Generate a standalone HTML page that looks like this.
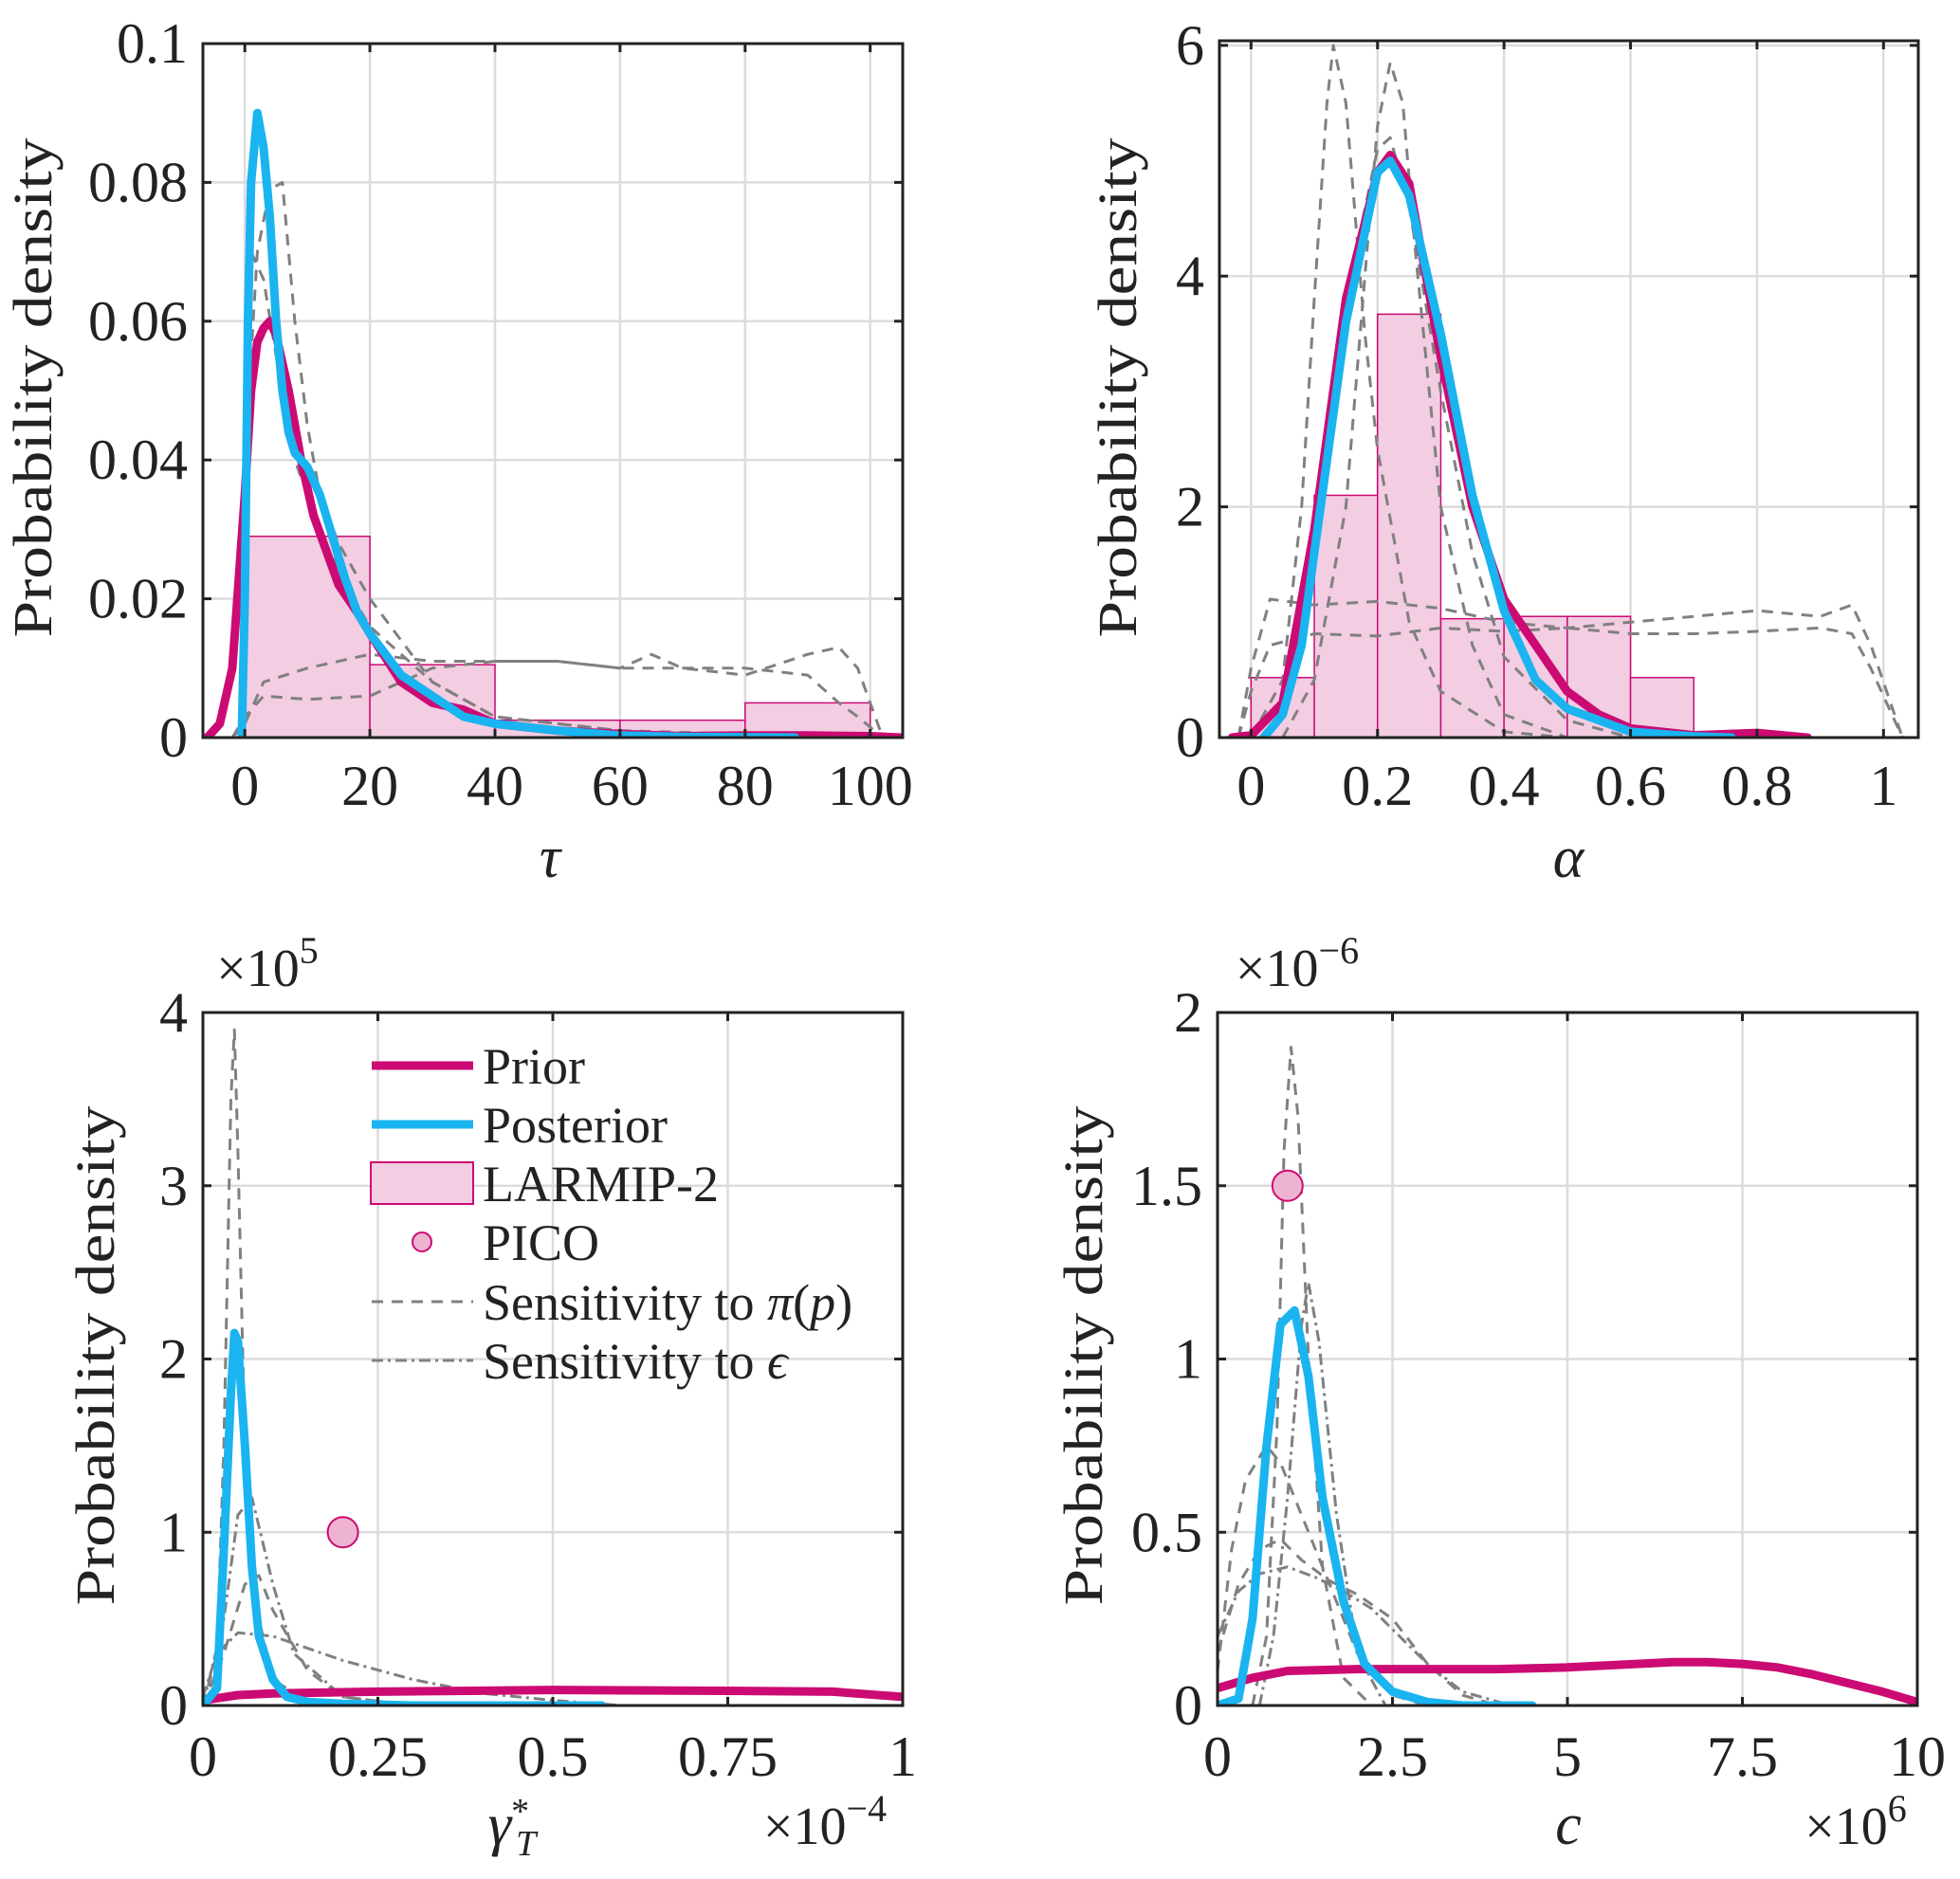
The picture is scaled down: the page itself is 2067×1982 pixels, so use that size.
<!DOCTYPE html>
<html><head><meta charset="utf-8"><style>
html,body{margin:0;padding:0;background:#fff;}
svg{display:block;font-family:"Liberation Serif",serif;}
</style></head><body>
<svg id="fig" width="2067" height="1982" viewBox="0 0 2067 1982" xmlns="http://www.w3.org/2000/svg"></svg>
<script>
// ---------- Panel A: tau ----------
const tauPriorX=[-6,-4,-2,0,1,2,3,4,5,7,9,11,13,15,18,20,25,30,35,40,45,50,60,70,80,90,100,105];
const tauPriorY=[0,0.002,0.01,0.035,0.05,0.057,0.059,0.06,0.058,0.05,0.04,0.032,0.027,0.022,0.018,0.015,0.008,0.005,0.004,0.002,0.0015,0.001,0.0005,0.0002,0.0003,0.0003,0.0002,0];
const tauPostX=[-0.5,0,0.5,1,2,3,4,5,6,7,8,10,12,14,16,18,20,25,30,35,40,50,60,70,88];
const tauPostY=[0,0.02,0.06,0.08,0.09,0.085,0.075,0.06,0.05,0.044,0.041,0.039,0.035,0.029,0.023,0.018,0.015,0.009,0.006,0.003,0.002,0.001,0.0003,0.0001,0];
const tauHistEdges=[0,20,40,60,80,100];
const tauHistH=[0.029,0.0105,0.0025,0.0025,0.005];
const tauD1X=[0,2,4,6,8,10,12,15,20,30,40,60,80,100];
const tauD1Y=[0.04,0.07,0.079,0.08,0.06,0.045,0.035,0.028,0.02,0.008,0.003,0.001,0,0];
const tauD2X=[0,1,3,5,8,12,16,20,30,40,60,100];
const tauD2Y=[0.05,0.07,0.066,0.055,0.04,0.03,0.022,0.016,0.008,0.003,0.001,0];
const tauD3X=[-2,0,3,10,20,30,40,50,60,65,70,80,90,95,98,102];
const tauD3Y=[0,0.002,0.008,0.01,0.012,0.011,0.011,0.011,0.01,0.012,0.01,0.009,0.012,0.013,0.01,0];
const tauD4X=[-2,0,3,10,20,30,40,50,60,65,70,80,90,95,98,102];
const tauD4Y=[0,0.003,0.006,0.0055,0.006,0.01,0.011,0.011,0.01,0.01,0.01,0.01,0.009,0.005,0.003,0];
const tauXTicks=[0,20,40,60,80,100];
const tauXTickLabels=["0","20","40","60","80","100"];
const tauYTicks=[0,0.02,0.04,0.06,0.08,0.1];
const tauYTickLabels=["0","0.02","0.04","0.06","0.08","0.1"];
// ---------- Panel B: alpha ----------
const alPriorX=[-0.03,0,0.05,0.1,0.15,0.2,0.22,0.25,0.3,0.35,0.4,0.45,0.5,0.55,0.6,0.7,0.8,0.88];
const alPriorY=[0,0.02,0.3,1.8,3.8,4.9,5.05,4.8,3.3,2.0,1.2,0.8,0.4,0.2,0.08,0.02,0.04,0];
const alPostX=[0.02,0.05,0.08,0.1,0.15,0.2,0.22,0.25,0.3,0.35,0.4,0.45,0.5,0.6,0.7,0.76];
const alPostY=[0,0.2,0.8,1.6,3.6,4.9,5.0,4.7,3.5,2.1,1.1,0.5,0.25,0.05,0.01,0];
const alHistEdges=[0,0.1,0.2,0.3,0.4,0.5,0.6,0.7];
const alHistH=[0.52,2.1,3.67,1.03,1.05,1.05,0.52];
const alD1X=[0,0.05,0.08,0.1,0.12,0.13,0.15,0.18,0.2,0.25,0.3,0.4,0.5];
const alD1Y=[0,0.5,2,3.8,5.5,6.0,5.5,3.5,2.5,1.0,0.4,0.05,0];
const alD2X=[0.05,0.1,0.15,0.18,0.2,0.22,0.24,0.26,0.3,0.35,0.4,0.5];
const alD2Y=[0,0.5,2.0,4.0,5.3,5.85,5.5,4.2,2.0,0.8,0.2,0];
const alD3X=[0,0.05,0.1,0.15,0.2,0.22,0.25,0.3,0.35,0.4,0.5,0.6];
const alD3Y=[0,0.3,1.5,3.8,5.1,5.2,4.6,3.0,1.6,0.7,0.15,0];
const alD4X=[-0.02,0,0.03,0.1,0.2,0.3,0.4,0.5,0.6,0.7,0.8,0.9,0.95,0.98,1.03];
const alD4Y=[0,0.6,1.2,1.15,1.18,1.12,1.0,0.95,1.0,1.05,1.1,1.05,1.15,0.8,0];
const alD5X=[-0.02,0,0.03,0.1,0.2,0.3,0.4,0.5,0.6,0.7,0.8,0.9,0.95,0.98,1.03];
const alD5Y=[0,0.4,0.8,0.9,0.88,0.95,0.92,0.95,0.9,0.9,0.92,0.95,0.9,0.6,0];
const alXTicks=[0,0.2,0.4,0.6,0.8,1];
const alXTickLabels=["0","0.2","0.4","0.6","0.8","1"];
const alYTicks=[0,2,4,6];
const alYTickLabels=["0","2","4","6"];
// ---------- Panel C: gamma ----------
const gaPriorX=[0,0.05,0.1,0.25,0.5,0.75,0.9,1.0];
const gaPriorY=[0.03,0.06,0.07,0.08,0.09,0.085,0.08,0.05];
const gaPostX=[0,0.02,0.03,0.04,0.045,0.05,0.06,0.07,0.08,0.1,0.12,0.15,0.2,0.3,0.57];
const gaPostY=[0,0.1,0.9,1.8,2.15,2.1,1.5,0.8,0.4,0.15,0.05,0.02,0.01,0,0];
const gaPicoX=[0.2];
const gaPicoY=[1.0];
const gaD1X=[0,0.02,0.03,0.04,0.045,0.05,0.06,0.08,0.1,0.15,0.2];
const gaD1Y=[0,0.3,1.5,3.5,3.9,3.2,1.5,0.5,0.15,0.02,0];
const gaD2X=[0,0.03,0.05,0.07,0.1,0.13,0.2,0.3];
const gaD2Y=[0,0.5,1.1,1.2,0.7,0.3,0.05,0];
const gaD3X=[0,0.03,0.06,0.08,0.1,0.15,0.2,0.3];
const gaD3Y=[0,0.3,0.7,0.75,0.55,0.2,0.05,0];
const gaD4X=[0,0.02,0.05,0.1,0.15,0.2,0.3,0.4,0.5,0.6];
const gaD4Y=[0.05,0.3,0.42,0.4,0.33,0.26,0.15,0.07,0.03,0];
const gaXTicks=[0,0.25,0.5,0.75,1];
const gaXTickLabels=["0","0.25","0.5","0.75","1"];
const gaYTicks=[0,1,2,3,4];
const gaYTickLabels=["0","1","2","3","4"];
// ---------- Panel D: c ----------
const cPriorX=[0,0.5,1,2,3,4,5,6,6.5,7,7.5,8,8.5,9,9.5,10];
const cPriorY=[0.05,0.08,0.1,0.105,0.105,0.105,0.11,0.12,0.125,0.125,0.12,0.11,0.09,0.065,0.04,0.01];
const cPostX=[0,0.3,0.5,0.7,0.9,1.1,1.3,1.5,1.8,2.1,2.5,3,3.5,4.5];
const cPostY=[0,0.02,0.25,0.75,1.1,1.14,0.95,0.6,0.3,0.12,0.04,0.01,0,0];
const cPicoX=[1.0];
const cPicoY=[1.5];
const cD1X=[0.5,0.7,0.85,0.95,1.05,1.15,1.3,1.5,1.8,2.2];
const cD1Y=[0,0.2,0.8,1.6,1.9,1.7,1.0,0.4,0.08,0];
const cD2X=[0.6,0.8,1.0,1.2,1.3,1.45,1.7,2.0,2.4];
const cD2Y=[0,0.2,0.6,1.1,1.22,1.05,0.55,0.15,0];
const cD3X=[0,0.2,0.4,0.7,0.9,1.2,1.6,2.0,2.5,3];
const cD3Y=[0.1,0.45,0.65,0.75,0.7,0.55,0.35,0.15,0.03,0];
const cD4X=[0,0.3,0.6,0.9,1.2,1.6,2.0,2.5,3.0,3.5,4];
const cD4Y=[0.15,0.35,0.45,0.48,0.42,0.36,0.32,0.25,0.12,0.03,0];
const cD5X=[0,0.3,0.6,1.0,1.4,1.8,2.2,2.6,3.0,3.5,4.2];
const cD5Y=[0.2,0.33,0.38,0.4,0.37,0.33,0.28,0.2,0.12,0.04,0];
const cXTicks=[0,2.5,5,7.5,10];
const cXTickLabels=["0","2.5","5","7.5","10"];
const cYTicks=[0,0.5,1,1.5,2];
const cYTickLabels=["0","0.5","1","1.5","2"];

const NS="http://www.w3.org/2000/svg";
const svg=document.getElementById('fig');
const MAG="#CC0A73", CY="#1AB4F0", GR="#808080";
function mk(tag,attrs,parent){const e=document.createElementNS(NS,tag);for(const k in attrs)e.setAttribute(k,attrs[k]);(parent||svg).appendChild(e);return e;}

function panel(name,box,xr,yr){
  const g=mk('g',{});
  
  
  const sx=v=>box.l+(v-xr[0])/(xr[1]-xr[0])*(box.r-box.l);
  const sy=v=>box.b-(v-yr[0])/(yr[1]-yr[0])*(box.b-box.t);
  const clipId=name+'-clip';
  const cp=mk('clipPath',{id:clipId},g);mk('rect',{x:box.l,y:box.t,width:box.r-box.l,height:box.b-box.t},cp);
  return {g,sx,sy,box,clip:'url(#'+clipId+')'};
}
function grid(p,xt,yt){
  for(const v of xt){const l=mk('line',{x1:p.sx(v),x2:p.sx(v),y1:p.box.t,y2:p.box.b,stroke:'#dcdcdc','stroke-width':2.5},p.g);
    }
  for(const v of yt){const l=mk('line',{y1:p.sy(v),y2:p.sy(v),x1:p.box.l,x2:p.box.r,stroke:'#dcdcdc','stroke-width':2.5},p.g);
    }
}
function hist(p,edges,h){
  for(let i=0;i<h.length;i++){
    const r=mk('rect',{x:p.sx(edges[i]),y:p.sy(h[i]),width:p.sx(edges[i+1])-p.sx(edges[i]),height:p.sy(0)-p.sy(h[i]),fill:'#F3CDE2',stroke:MAG,'stroke-width':1.5},p.g);
    
    
  }
}
function line(p,xs,ys,color,w,dash,nm){
  let d='';for(let i=0;i<xs.length;i++)d+=(i?'L':'M')+p.sx(xs[i]).toFixed(1)+','+p.sy(ys[i]).toFixed(1);
  const e=mk('path',{d:d,fill:'none',stroke:color,'stroke-width':w,'stroke-linejoin':'round','stroke-linecap':dash?'butt':'round','clip-path':p.clip},p.g);
  if(dash)e.setAttribute('stroke-dasharray',dash);
  
  
}
function pts(p,xs,ys){
  for(let i=0;i<xs.length;i++){const c=mk('circle',{cx:p.sx(xs[i]),cy:p.sy(ys[i]),r:16,fill:'#EFB3D2',stroke:MAG,'stroke-width':2},p.g);
    }
}
function axes(p,xt,xl,yt,yl,xlabelY){
  const b=p.box;
  const f=mk('rect',{x:b.l,y:b.t,width:b.r-b.l,height:b.b-b.t,fill:'none',stroke:'#222','stroke-width':3},p.g);
  
  for(let i=0;i<xt.length;i++){const x=p.sx(xt[i]);
    mk('line',{x1:x,x2:x,y1:b.b,y2:b.b-9,stroke:'#222','stroke-width':3},p.g);
    mk('line',{x1:x,x2:x,y1:b.t,y2:b.t+9,stroke:'#222','stroke-width':3},p.g);
    const t=mk('text',{x:x,y:xlabelY,'text-anchor':'middle','font-size':60,fill:'#222'},p.g);t.textContent=xl[i];
    }
  for(let i=0;i<yt.length;i++){const y=p.sy(yt[i]);
    mk('line',{x1:b.l,x2:b.l+9,y1:y,y2:y,stroke:'#222','stroke-width':3},p.g);
    mk('line',{x1:b.r,x2:b.r-9,y1:y,y2:y,stroke:'#222','stroke-width':3},p.g);
    const t=mk('text',{x:b.l-16,y:y+20,'text-anchor':'end','font-size':60,fill:'#222'},p.g);t.textContent=yl[i];
    }
}
function txt(x,y,s,size,nm,extra){const t=mk('text',Object.assign({x:x,y:y,'font-size':size,fill:'#222','text-anchor':'middle'},extra||{}));t.innerHTML=s;
  return t;}
function ylab(x,y,nm){const t=mk('text',{x:0,y:0,'font-size':58,fill:'#222','text-anchor':'middle',textLength:527,lengthAdjust:'spacingAndGlyphs',transform:'translate('+x+','+y+') rotate(-90)'});t.textContent='Probability density';
  }

// Panel A
let A=panel('tau-panel',{l:214,r:952,t:46,b:778},[-6.7,105.2],[0,0.1]);
grid(A,tauXTicks,tauYTicks);
hist(A,tauHistEdges,tauHistH);
line(A,tauD1X,tauD1Y,GR,3,'12,9','sensitivity-pi-curve');
line(A,tauD2X,tauD2Y,GR,3,'12,9','sensitivity-pi-curve');
line(A,tauD3X,tauD3Y,GR,3,'12,9','sensitivity-pi-curve');
line(A,tauD4X,tauD4Y,GR,3,'12,9','sensitivity-pi-curve');
line(A,tauPriorX,tauPriorY,MAG,9,null,'prior-curve');
line(A,tauPostX,tauPostY,CY,9,null,'posterior-curve');
axes(A,tauXTicks,tauXTickLabels,tauYTicks,tauYTickLabels,849);
ylab(54,409,'y-axis-title');
txt(580,925,'<tspan font-style="italic">τ</tspan>',62,'x-axis-title');

// Panel B
let B=panel('alpha-panel',{l:1286,r:2023,t:43,b:778},[-0.05,1.055],[0,6.04]);
grid(B,alXTicks,alYTicks);
hist(B,alHistEdges,alHistH);
line(B,alD1X,alD1Y,GR,3,'12,9','sensitivity-pi-curve');
line(B,alD2X,alD2Y,GR,3,'12,9','sensitivity-pi-curve');
line(B,alD3X,alD3Y,GR,3,'12,9','sensitivity-pi-curve');
line(B,alD4X,alD4Y,GR,3,'12,9','sensitivity-pi-curve');
line(B,alD5X,alD5Y,GR,3,'12,9','sensitivity-pi-curve');
line(B,alPriorX,alPriorY,MAG,9,null,'prior-curve');
line(B,alPostX,alPostY,CY,9,null,'posterior-curve');
axes(B,alXTicks,alXTickLabels,alYTicks,alYTickLabels,849);
ylab(1198,409,'y-axis-title');
txt(1654,925,'<tspan font-style="italic">α</tspan>',62,'x-axis-title');

// Panel C
let C=panel('gamma-panel',{l:214,r:952,t:1068,b:1799},[0,1],[0,4]);
grid(C,gaXTicks,gaYTicks);
line(C,gaD1X,gaD1Y,GR,3,'12,9','sensitivity-pi-curve');
line(C,gaD2X,gaD2Y,GR,3,'12,5,3,5','sensitivity-eps-curve');
line(C,gaD3X,gaD3Y,GR,3,'12,9','sensitivity-pi-curve');
line(C,gaD4X,gaD4Y,GR,3,'12,5,3,5','sensitivity-eps-curve');
line(C,gaPriorX,gaPriorY,MAG,9,null,'prior-curve');
line(C,gaPostX,gaPostY,CY,9,null,'posterior-curve');
pts(C,gaPicoX,gaPicoY);
axes(C,gaXTicks,gaXTickLabels,gaYTicks,gaYTickLabels,1873);
ylab(120,1430,'y-axis-title');
txt(540,1945,'<tspan font-style="italic">γ</tspan><tspan font-size="38" dy="-22">*</tspan><tspan font-size="38" font-style="italic" dx="-14" dy="34">T</tspan>',62,'x-axis-title');
txt(870,1945,'×10<tspan font-size="40" dy="-24">−4</tspan>',56,'x-scale-exponent');
txt(282,1040,'×10<tspan font-size="40" dy="-24">5</tspan>',56,'y-scale-exponent');
// legend
const lg=mk('g',{});
const LY=[1124,1186,1248,1310,1373,1435];
mk('line',{x1:392,x2:499,y1:LY[0],y2:LY[0],stroke:MAG,'stroke-width':9},lg);
mk('line',{x1:392,x2:499,y1:LY[1],y2:LY[1],stroke:CY,'stroke-width':9},lg);
mk('rect',{x:391,y:LY[2]-22,width:108,height:44,fill:'#F3CDE2',stroke:MAG,'stroke-width':2},lg);
mk('circle',{cx:445,cy:LY[3],r:10,fill:'#EFB3D2',stroke:MAG,'stroke-width':2},lg);
mk('line',{x1:392,x2:499,y1:LY[4],y2:LY[4],stroke:GR,'stroke-width':3,'stroke-dasharray':'12,9'},lg);
mk('line',{x1:392,x2:499,y1:LY[5],y2:LY[5],stroke:GR,'stroke-width':3,'stroke-dasharray':'12,5,3,5'},lg);
const LT=['Prior','Posterior','LARMIP-2','PICO','Sensitivity to <tspan font-style="italic">π</tspan>(<tspan font-style="italic">p</tspan>)','Sensitivity to <tspan font-style="italic">ϵ</tspan>'];
const LN=['legend-prior','legend-posterior','legend-larmip','legend-pico','legend-sensitivity-pi','legend-sensitivity-eps'];
for(let i=0;i<6;i++){const t=mk('text',{x:509,y:LY[i]+19,'font-size':54,fill:'#222'},lg);t.innerHTML=LT[i];
  }

// Panel D
let D=panel('c-panel',{l:1284,r:2022,t:1068,b:1799},[0,10],[0,2]);
grid(D,cXTicks,cYTicks);
line(D,cD1X,cD1Y,GR,3,'12,9','sensitivity-pi-curve');
line(D,cD2X,cD2Y,GR,3,'12,5,3,5','sensitivity-eps-curve');
line(D,cD3X,cD3Y,GR,3,'12,9','sensitivity-pi-curve');
line(D,cD4X,cD4Y,GR,3,'12,9','sensitivity-pi-curve');
line(D,cD5X,cD5Y,GR,3,'12,5,3,5','sensitivity-eps-curve');
line(D,cPriorX,cPriorY,MAG,9,null,'prior-curve');
line(D,cPostX,cPostY,CY,9,null,'posterior-curve');
pts(D,cPicoX,cPicoY);
axes(D,cXTicks,cXTickLabels,cYTicks,cYTickLabels,1873);
ylab(1162,1430,'y-axis-title');
txt(1654,1945,'<tspan font-style="italic">c</tspan>',62,'x-axis-title');
txt(1957,1945,'×10<tspan font-size="40" dy="-24">6</tspan>',56,'x-scale-exponent');
txt(1368,1040,'×10<tspan font-size="40" dy="-24">−6</tspan>',56,'y-scale-exponent');
</script>
</body></html>
